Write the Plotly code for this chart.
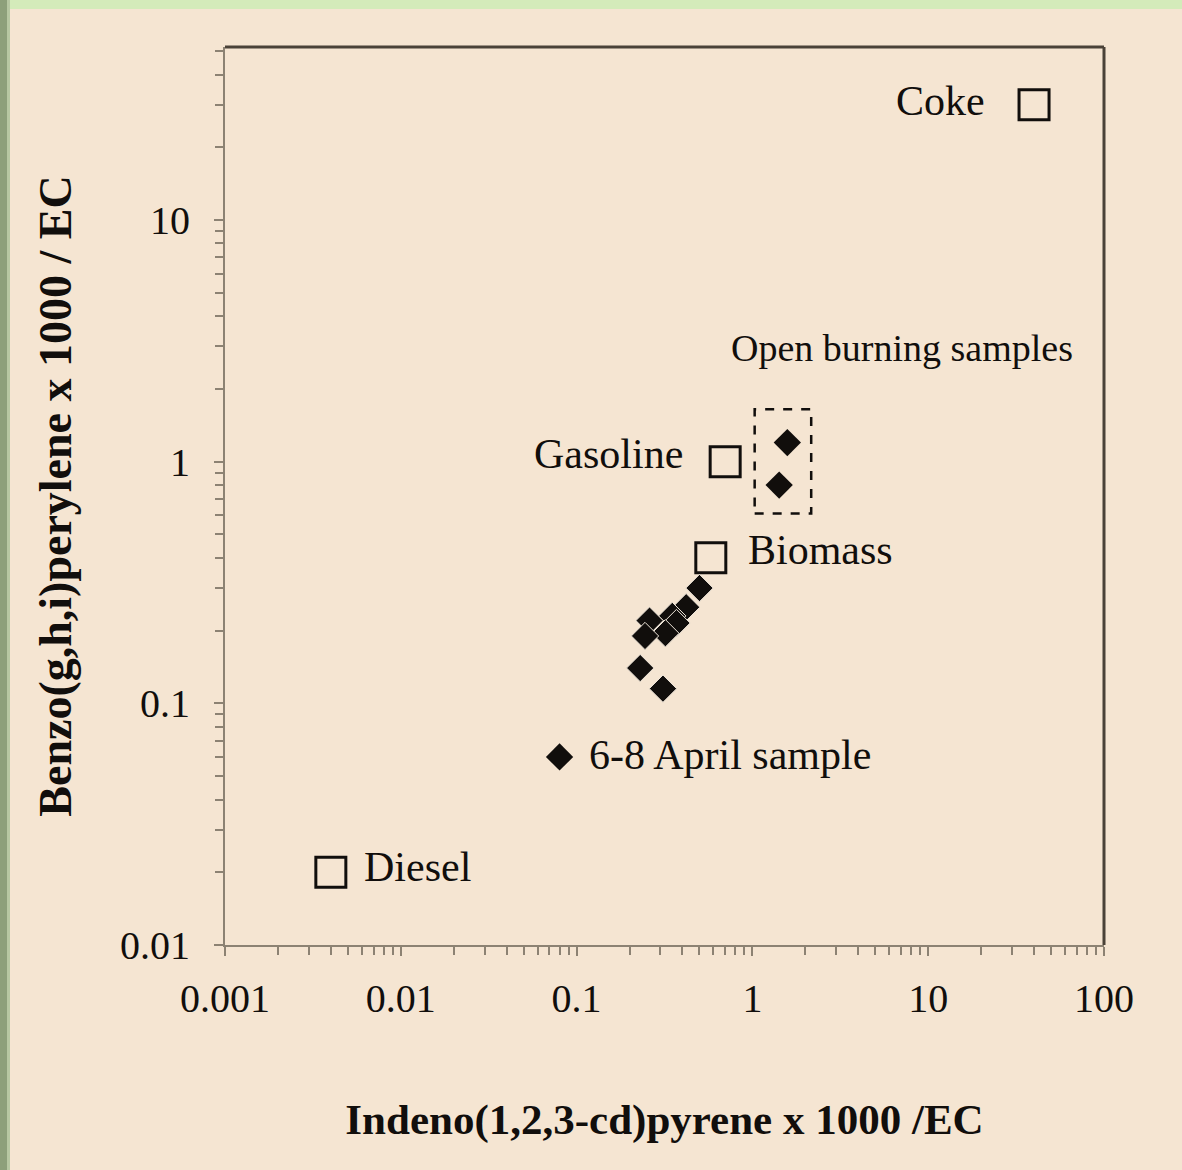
import math
import plotly.graph_objects as go

# ---------------- data ----------------
source_names = ["Coke", "Gasoline", "Biomass", "Diesel"]
source_x = [40.0, 0.70, 0.58, 0.004]
source_y = [30.0, 1.0, 0.40, 0.020]

open_burning_x = [1.58, 1.42]
open_burning_y = [1.20, 0.80]

april_x = [0.080]
april_y = [0.060]

ambient_x = [0.50, 0.42, 0.35, 0.37, 0.32, 0.26, 0.245, 0.23, 0.31]
ambient_y = [0.30, 0.25, 0.23, 0.215, 0.195, 0.22, 0.19, 0.14, 0.115]

# dashed box around open burning samples (data units)
box_x = [1.03, 2.16]
box_y = [0.61, 1.65]

x_tickvals = [0.001, 0.01, 0.1, 1, 10, 100]
x_ticktext = ["0.001", "0.01", "0.1", "1", "10", "100"]
y_tickvals = [0.01, 0.1, 1, 10]
y_ticktext = ["0.01", "0.1", "1", "10"]

x_title = "Indeno(1,2,3-cd)pyrene x 1000 /EC"
y_title = "Benzo(g,h,i)perylene x 1000 / EC"

# ---------------- style ----------------
W, H = 1182, 1170
ML, MR, MT, MB = 225, 78, 47, 225
PW, PH = W - ML - MR, H - MT - MB
BG = "#F5E5D2"
INK = "#110e0c"
AXC = "#8C8273"
FONT = "Liberation Serif"

fig = go.Figure()

# dashed box
fig.add_trace(go.Scatter(
    x=[box_x[0], box_x[1], box_x[1], box_x[0], box_x[0]],
    y=[box_y[0], box_y[0], box_y[1], box_y[1], box_y[0]],
    mode="lines", line=dict(color=INK, width=2.5, dash="dash"),
    hoverinfo="skip", showlegend=False))

# source profiles (open squares)
fig.add_trace(go.Scatter(
    x=source_x, y=source_y, mode="markers",
    marker=dict(symbol="square-open", size=30, color=INK, line=dict(width=3, color=INK)),
    showlegend=False))

# ambient samples (filled diamonds)
fig.add_trace(go.Scatter(
    x=ambient_x, y=ambient_y, mode="markers",
    marker=dict(symbol="diamond", size=21, color=INK, line=dict(width=1, color="#EFE6DA")),
    showlegend=False))
fig.add_trace(go.Scatter(
    x=open_burning_x, y=open_burning_y, mode="markers",
    marker=dict(symbol="diamond", size=21, color=INK, line=dict(width=0)),
    showlegend=False))
fig.add_trace(go.Scatter(
    x=april_x, y=april_y, mode="markers",
    marker=dict(symbol="diamond", size=21, color=INK, line=dict(width=0)),
    showlegend=False))

# labels
label_cfg = {
    "Coke": dict(xanchor="right", xshift=-47, yshift=4),
    "Gasoline": dict(xanchor="right", xshift=-40, yshift=8),
    "Biomass": dict(xanchor="left", xshift=35, yshift=8),
    "Diesel": dict(xanchor="left", xshift=31, yshift=5),
}
annotations = []
for n, x, y in zip(source_names, source_x, source_y):
    c = label_cfg[n]
    annotations.append(dict(
        x=math.log10(x), y=math.log10(y), xref="x", yref="y", text=n,
        showarrow=False, xanchor=c["xanchor"], yanchor="middle",
        xshift=c["xshift"], yshift=c["yshift"],
        font=dict(family=FONT, size=42, color=INK)))
annotations.append(dict(
    x=math.log10(april_x[0]), y=math.log10(april_y[0]), xref="x", yref="y",
    text="6-8 April sample", showarrow=False, xanchor="left", yanchor="middle",
    xshift=27, yshift=2, font=dict(family=FONT, size=42, color=INK)))
annotations.append(dict(
    x=math.log10(box_x[0] * box_x[1]) / 2, y=math.log10(box_y[1]), xref="x", yref="y",
    text="Open burning samples", showarrow=False, xanchor="center", yanchor="bottom",
    xshift=119, yshift=38, font=dict(family=FONT, size=38, color=INK)))

# decorative frame (green border strips) and top/right box lines
def px_to_paper_x(px):
    return (px - ML) / PW

def px_to_paper_y(py):
    return (H - MB - py) / PH

shapes = [
    dict(type="rect", xref="paper", yref="paper",
         x0=px_to_paper_x(0), x1=px_to_paper_x(W), y0=px_to_paper_y(0), y1=px_to_paper_y(9),
         fillcolor="#D4EBBA", line=dict(width=0), layer="below"),
    dict(type="rect", xref="paper", yref="paper",
         x0=px_to_paper_x(0), x1=px_to_paper_x(7), y0=px_to_paper_y(H), y1=px_to_paper_y(0),
         fillcolor="#8DA07A", line=dict(width=0), layer="below"),
    dict(type="rect", xref="paper", yref="paper",
         x0=px_to_paper_x(7), x1=px_to_paper_x(10), y0=px_to_paper_y(H), y1=px_to_paper_y(0),
         fillcolor="#B7C8A2", line=dict(width=0), layer="below"),
    dict(type="line", xref="paper", yref="paper", x0=0, x1=1, y0=1, y1=1,
         line=dict(color="#4A4238", width=3)),
    dict(type="line", xref="paper", yref="paper", x0=1, x1=1, y0=0, y1=1,
         line=dict(color="#4A4238", width=3)),
]

axis_common = dict(
    type="log", showgrid=False, zeroline=False, showline=True, linecolor=AXC, linewidth=2,
    ticks="outside", ticklen=9, tickwidth=2, tickcolor=AXC,
    tickfont=dict(family=FONT, size=40, color=INK),
    minor=dict(ticks="outside", ticklen=8, tickwidth=1.5, tickcolor=AXC, dtick="D1", showgrid=False),
)

fig.update_layout(
    width=W, height=H,
    margin=dict(l=ML, r=MR, t=MT, b=MB),
    paper_bgcolor=BG, plot_bgcolor=BG,
    showlegend=False,
    annotations=annotations,
    shapes=shapes,
    xaxis=dict(**axis_common, range=[-3, 2], tickvals=x_tickvals, ticktext=x_ticktext,
               ticklabelstandoff=8,
               title=dict(text="<b>" + x_title + "</b>", standoff=84,
                          font=dict(family=FONT, size=43, color=INK))),
    yaxis=dict(**axis_common, range=[-2, 1.716], tickvals=y_tickvals, ticktext=y_ticktext,
               ticklabelstandoff=16,
               title=dict(text="<b>" + y_title + "</b>", standoff=34,
                          font=dict(family=FONT, size=46, color=INK))),
)

fig.write_html("out.html", config={"displayModeBar": False},
               post_script="document.body.style.margin='0';document.body.style.padding='0';")
